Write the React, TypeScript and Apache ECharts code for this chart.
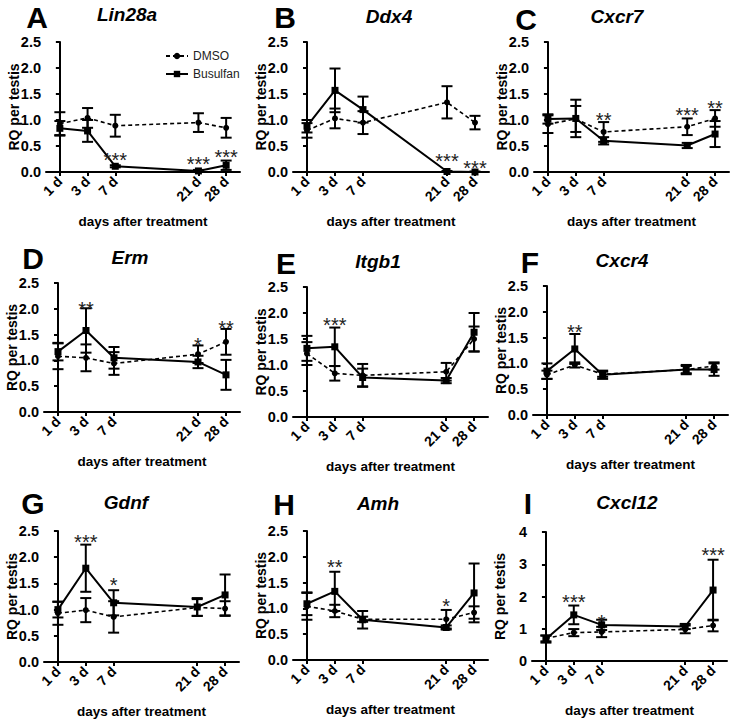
import React, { useEffect, useRef } from "react";
import * as echarts from "echarts";

// ---- data ----
const DAY_LABELS = ["1 d", "3 d", "7 d", "21 d", "28 d"];
const DAY_POS = [0, 1, 2, 5, 6];
const LETTERS = ["A", "B", "C", "D", "E", "F", "G", "H", "I"];
const GENES = ["Lin28a", "Ddx4", "Cxcr7", "Erm", "Itgb1", "Cxcr4", "Gdnf", "Amh", "Cxcl12"];

const lin28aDmso = [0.93, 1.04, 0.89, 0.95, 0.85];
const lin28aDmsoErr = [0.22, 0.19, 0.21, 0.18, 0.19];
const lin28aBus = [0.84, 0.79, 0.11, 0.02, 0.13];
const lin28aBusErr = [0.14, 0.21, 0.02, 0.02, 0.09];
const lin28aStars = ["", "", "***", "***", "***"];
const lin28aStarY = [0, 0, 0.33, 0.25, 0.38];

const ddx4Dmso = [0.8, 1.03, 0.95, 1.34, 0.95];
const ddx4DmsoErr = [0.14, 0.19, 0.22, 0.31, 0.13];
const ddx4Bus = [0.88, 1.57, 1.2, 0.01, 0.0];
const ddx4BusErr = [0.12, 0.42, 0.25, 0.01, 0.01];
const ddx4Stars = ["", "", "", "***", "***"];
const ddx4StarY = [0, 0, 0, 0.3, 0.17];

const cxcr7Dmso = [0.92, 1.02, 0.77, 0.87, 1.03];
const cxcr7DmsoErr = [0.17, 0.25, 0.19, 0.16, 0.16];
const cxcr7Bus = [1.02, 1.03, 0.6, 0.51, 0.73];
const cxcr7BusErr = [0.09, 0.36, 0.07, 0.05, 0.25];
const cxcr7Stars = ["", "", "**", "***", "**"];
const cxcr7StarY = [0, 0, 1.1, 1.2, 1.32];

const ermDmso = [1.08, 1.05, 0.94, 1.12, 1.36];
const ermDmsoErr = [0.25, 0.26, 0.22, 0.17, 0.25];
const ermBus = [1.17, 1.58, 1.05, 0.97, 0.72];
const ermBusErr = [0.17, 0.43, 0.21, 0.12, 0.29];
const ermStars = ["", "**", "", "*", "**"];
const ermStarY = [0, 2.1, 0, 1.4, 1.72];

const itgb1Dmso = [1.22, 0.84, 0.8, 0.87, 1.5];
const itgb1DmsoErr = [0.22, 0.14, 0.22, 0.17, 0.24];
const itgb1Bus = [1.32, 1.35, 0.76, 0.7, 1.63];
const itgb1BusErr = [0.24, 0.37, 0.17, 0.05, 0.37];
const itgb1Stars = ["", "***", "", "", ""];
const itgb1StarY = [0, 1.87, 0, 0, 0];

const cxcr4Dmso = [0.78, 0.97, 0.79, 0.88, 0.95];
const cxcr4DmsoErr = [0.08, 0.05, 0.05, 0.07, 0.07];
const cxcr4Bus = [0.85, 1.28, 0.78, 0.88, 0.88];
const cxcr4BusErr = [0.15, 0.29, 0.08, 0.09, 0.12];
const cxcr4Stars = ["", "**", "", "", ""];
const cxcr4StarY = [0, 1.7, 0, 0, 0];

const gdnfDmso = [0.93, 0.99, 0.86, 1.04, 1.02];
const gdnfDmsoErr = [0.22, 0.23, 0.3, 0.16, 0.14];
const gdnfBus = [1.0, 1.79, 1.13, 1.05, 1.28];
const gdnfBusErr = [0.15, 0.45, 0.24, 0.17, 0.39];
const gdnfStars = ["", "***", "*", "", ""];
const gdnfStarY = [0, 2.39, 1.56, 0, 0];

const amhDmso = [1.04, 0.95, 0.79, 0.79, 0.92];
const amhDmsoErr = [0.26, 0.12, 0.05, 0.18, 0.12];
const amhBus = [1.09, 1.33, 0.78, 0.63, 1.3];
const amhBusErr = [0.22, 0.38, 0.17, 0.04, 0.57];
const amhStars = ["", "**", "", "*", ""];
const amhStarY = [0, 1.9, 0, 1.15, 0];

const cxcl12Dmso = [0.7, 0.88, 0.9, 0.98, 1.1];
const cxcl12DmsoErr = [0.09, 0.11, 0.16, 0.12, 0.18];
const cxcl12Bus = [0.68, 1.43, 1.12, 1.07, 2.2];
const cxcl12BusErr = [0.11, 0.29, 0.16, 0.08, 0.94];
const cxcl12Stars = ["", "***", "*", "", "***"];
const cxcl12StarY = [0, 2.0, 1.37, 0, 3.43];

const Y_MAX = [2.5, 2.5, 2.5, 2.5, 2.5, 2.5, 2.5, 2.5, 4];
const Y_STEP = [0.5, 0.5, 0.5, 0.5, 0.5, 0.5, 0.5, 0.5, 1];

const PANELS = [
  [lin28aDmso, lin28aDmsoErr, lin28aBus, lin28aBusErr, lin28aStars, lin28aStarY],
  [ddx4Dmso, ddx4DmsoErr, ddx4Bus, ddx4BusErr, ddx4Stars, ddx4StarY],
  [cxcr7Dmso, cxcr7DmsoErr, cxcr7Bus, cxcr7BusErr, cxcr7Stars, cxcr7StarY],
  [ermDmso, ermDmsoErr, ermBus, ermBusErr, ermStars, ermStarY],
  [itgb1Dmso, itgb1DmsoErr, itgb1Bus, itgb1BusErr, itgb1Stars, itgb1StarY],
  [cxcr4Dmso, cxcr4DmsoErr, cxcr4Bus, cxcr4BusErr, cxcr4Stars, cxcr4StarY],
  [gdnfDmso, gdnfDmsoErr, gdnfBus, gdnfBusErr, gdnfStars, gdnfStarY],
  [amhDmso, amhDmsoErr, amhBus, amhBusErr, amhStars, amhStarY],
  [cxcl12Dmso, cxcl12DmsoErr, cxcl12Bus, cxcl12BusErr, cxcl12Stars, cxcl12StarY],
];

// ---- layout ----
const GRID_BOX = [
  [46, 42, 194, 130],
  [293, 42, 196, 130],
  [534, 42, 195, 130],
  [44, 283, 196, 129],
  [293, 287, 195, 130],
  [533, 286, 195, 129],
  [44, 531, 195, 131],
  [293, 531, 195, 129],
  [532, 532, 195, 129],
];
const LETTER_POS = [
  [37, 17], [285, 17], [526, 19],
  [33, 258], [286, 263], [530, 262],
  [33, 503], [284, 504], [528, 503],
];
const GENE_POS = [
  [127, 14], [389, 16], [617, 16],
  [130, 257], [378, 261], [622, 260],
  [126, 502], [378, 503], [627, 502],
];

const FONT = '"Liberation Sans", Arial, Helvetica, sans-serif';

function errRender(params: any, api: any) {
  const x = api.value(0);
  const lo = api.value(1);
  const hi = api.value(2);
  const t = api.coord([x, hi]);
  const b = api.coord([x, lo]);
  const w = 5.5;
  const style = { stroke: "#000", lineWidth: 2 };
  return {
    type: "group",
    children: [
      { type: "line", shape: { x1: t[0], y1: t[1], x2: b[0], y2: b[1] }, style },
      { type: "line", shape: { x1: t[0] - w, y1: t[1], x2: t[0] + w, y2: t[1] }, style },
      { type: "line", shape: { x1: b[0] - w, y1: b[1], x2: b[0] + w, y2: b[1] }, style },
    ],
  };
}

export default function App() {
  const ref = useRef<HTMLDivElement>(null);
  useEffect(() => {
    if (!ref.current) return;
    const chart = echarts.init(ref.current, undefined, { renderer: "svg" });
    const grids: any[] = [];
    const xAxes: any[] = [];
    const yAxes: any[] = [];
    const series: any[] = [];
    const graphics: any[] = [];

    PANELS.forEach((p, i) => {
      const [dm, dmE, bu, buE, stars, starY] = p as any[];
      const [l, t, w, h] = GRID_BOX[i];
      grids.push({ left: l, top: t, width: w, height: h, containLabel: false });
      xAxes.push({
        type: "value",
        gridIndex: i,
        min: -0.5,
        max: 6.5,
        name: "days after treatment",
        nameLocation: "middle",
        nameGap: 42,
        nameMoveOverlap: false,
        nameTextStyle: { fontFamily: FONT, fontWeight: "bold", fontSize: 13.5, color: "#000" },
        axisLine: { show: true, lineStyle: { color: "#000", width: 2 } },
        axisTick: { show: true, length: 4, lineStyle: { color: "#000", width: 2 }, customValues: DAY_POS },
        axisLabel: {
          customValues: DAY_POS,
          rotate: 45,
          margin: 7,
          fontFamily: FONT,
          fontWeight: "bold",
          fontSize: 14,
          color: "#000",
          formatter: (v: number) => DAY_LABELS[DAY_POS.indexOf(Math.round(v))] ?? "",
        },
        splitLine: { show: false },
      });
      yAxes.push({
        type: "value",
        gridIndex: i,
        min: 0,
        max: Y_MAX[i],
        interval: Y_STEP[i],
        name: "RQ per testis",
        nameLocation: "middle",
        nameGap: 25,
        nameMoveOverlap: false,
        nameTextStyle: { fontFamily: FONT, fontWeight: "bold", fontSize: 14, color: "#000" },
        axisLine: { show: true, lineStyle: { color: "#000", width: 2 } },
        axisTick: { show: true, length: 4, lineStyle: { color: "#000", width: 2 } },
        axisLabel: {
          margin: 5,
          fontFamily: FONT,
          fontWeight: "bold",
          fontSize: 14.5,
          color: "#000",
          formatter: (v: number) => (Y_STEP[i] < 1 ? v.toFixed(1) : String(v)),
        },
        splitLine: { show: false },
      });

      series.push({
        type: "custom",
        xAxisIndex: i,
        yAxisIndex: i,
        renderItem: errRender,
        encode: { x: 0, y: [1, 2] },
        data: DAY_POS.map((x, k) => [x, dm[k] - dmE[k], dm[k] + dmE[k]]),
        silent: true,
        z: 3,
      });
      series.push({
        type: "custom",
        xAxisIndex: i,
        yAxisIndex: i,
        renderItem: errRender,
        encode: { x: 0, y: [1, 2] },
        data: DAY_POS.map((x, k) => [x, Math.max(0, bu[k] - buE[k]), bu[k] + buE[k]]),
        silent: true,
        z: 3,
      });
      series.push({
        type: "line",
        name: "DMSO",
        xAxisIndex: i,
        yAxisIndex: i,
        data: DAY_POS.map((x, k) => [x, dm[k]]),
        symbol: "circle",
        symbolSize: 6,
        lineStyle: { color: "#000", width: 1.6, type: [4, 3] },
        itemStyle: { color: "#000" },
        z: 4,
      });
      series.push({
        type: "line",
        name: "Busulfan",
        xAxisIndex: i,
        yAxisIndex: i,
        data: DAY_POS.map((x, k) => [x, bu[k]]),
        symbol: "rect",
        symbolSize: 7,
        lineStyle: { color: "#000", width: 2, type: "solid" },
        itemStyle: { color: "#000" },
        z: 5,
      });
      const starData: any[] = [];
      const starText: string[] = [];
      DAY_POS.forEach((x, k) => {
        if (stars[k]) {
          starData.push([x, starY[k]]);
          starText.push(stars[k]);
        }
      });
      series.push({
        type: "custom",
        xAxisIndex: i,
        yAxisIndex: i,
        data: starData,
        encode: { x: 0, y: 1 },
        silent: true,
        z: 6,
        renderItem: (params: any, api: any) => {
          const c = api.coord([api.value(0), api.value(1)]);
          return {
            type: "text",
            x: c[0],
            y: c[1] + 5,
            style: {
              text: starText[params.dataIndex],
              fontFamily: FONT,
              fontSize: 20,
              fill: "#222",
              align: "center",
              verticalAlign: "middle",
            },
          };
        },
      });

      graphics.push({
        type: "text",
        x: LETTER_POS[i][0],
        y: LETTER_POS[i][1],
        style: {
          text: LETTERS[i],
          fontFamily: FONT,
          fontWeight: "bold",
          fontSize: 30,
          fill: "#000",
          align: "center",
          verticalAlign: "middle",
        },
      });
      graphics.push({
        type: "text",
        x: GENE_POS[i][0],
        y: GENE_POS[i][1],
        style: {
          text: GENES[i],
          fontFamily: FONT,
          fontWeight: "bold",
          fontStyle: "italic",
          fontSize: 19,
          fill: "#000",
          align: "center",
          verticalAlign: "middle",
        },
      });
    });

    chart.setOption({
      animation: false,
      backgroundColor: "#fff",
      grid: grids,
      xAxis: xAxes,
      yAxis: yAxes,
      series,
      graphic: graphics,
      legend: {
        data: ["DMSO", "Busulfan"],
        orient: "vertical",
        left: 160,
        top: 45,
        itemWidth: 22,
        itemHeight: 8,
        itemGap: 6,
        selectedMode: false,
        textStyle: { fontFamily: FONT, fontSize: 12, color: "#222" },
      },
    });
    return () => chart.dispose();
  }, []);
  return (
    <div
      ref={ref}
      style={{ position: "fixed", left: 0, top: 0, width: 734, height: 722, background: "#fff" }}
    />
  );
}
